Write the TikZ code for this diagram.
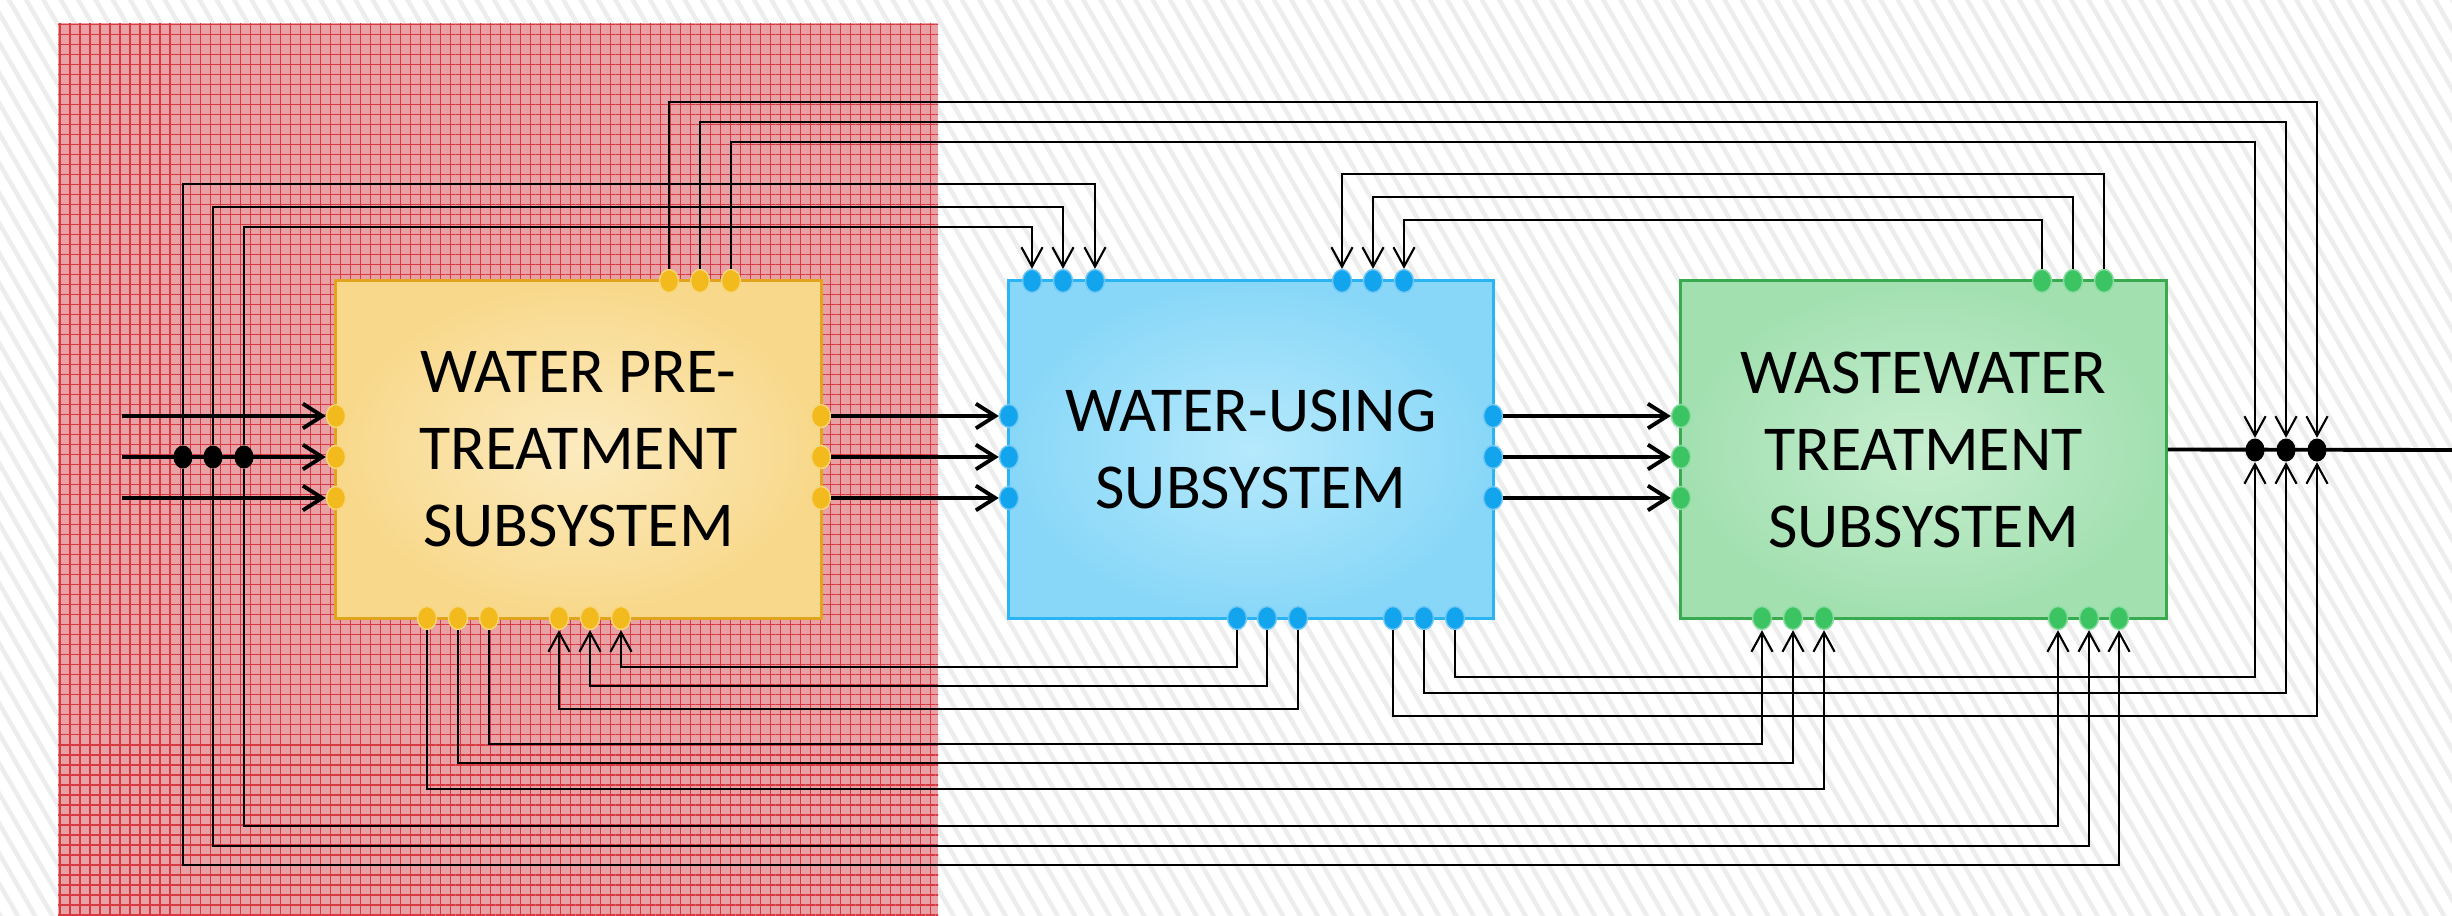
\documentclass[tikz,border=0pt]{standalone}
\usepackage{fontspec}
\setmainfont{Carlito}
\usetikzlibrary{arrows.meta,shapes.geometric,patterns.meta}

\definecolor{preline}{HTML}{E2A41C}
\definecolor{prein}{HTML}{FCEBC0}
\definecolor{preout}{HTML}{F8D88A}
\definecolor{preport}{HTML}{F3BA1E}
\definecolor{useline}{HTML}{2BB4F4}
\definecolor{usein}{HTML}{B6E9FC}
\definecolor{useout}{HTML}{88D7F8}
\definecolor{useport}{HTML}{12A4EC}
\definecolor{wwtline}{HTML}{38AA50}
\definecolor{wwtin}{HTML}{C6EECF}
\definecolor{wwtout}{HTML}{A2E0B0}
\definecolor{wwtport}{HTML}{3CC462}
\definecolor{plaid}{HTML}{E8A2A6}
\definecolor{plaidline}{HTML}{D83840}

\begin{document}
\begin{tikzpicture}[x=0.01cm, y=-0.01cm,
  box/.style={rectangle, minimum width=4.85cm, minimum height=3.37cm, line width=0.9pt,
    align=center, font=\fontsize{18.2}{21.9}\selectfont},
  port/.style={ellipse, minimum width=1.9mm, minimum height=2.3mm, inner sep=0pt, line width=0.4pt},
  junction/.style={port, fill=black},
  flow/.style={line width=1.1pt, -{Straight Barb[length=5.5pt,width=7pt]}},
  link/.style={line width=0.6pt, -{Straight Barb[length=5.5pt,width=6pt]}}]

% Background
\useasboundingbox (0,0) rectangle (2452,915);
\fill[white] (0,0) rectangle (2452,915);
\fill[pattern={Lines[angle=-60,distance=1.5mm,line width=0.45mm]}, pattern color=gray!14]
  (0,0) rectangle (2452,915);

% Pre-treatment area
\fill[plaid] (58,23) rectangle (938,915);
\fill[pattern={Hatch[angle=0,distance=1mm,line width=0.12mm]}, pattern color=plaidline]
  (58,23) rectangle (938,915);

% Subsystems
\node[box, draw=preline, inner color=prein, outer color=preout] (pre) at (578.5,449.5)
  {WATER PRE-\\TREATMENT\\SUBSYSTEM};
\node[box, draw=useline, inner color=usein, outer color=useout] (use) at (1251,449.5)
  {WATER-USING\\SUBSYSTEM};
\node[box, draw=wwtline, inner color=wwtin, outer color=wwtout] (wwt) at (1923.5,449.5)
  {WASTEWATER\\TREATMENT\\SUBSYSTEM};

% Ports: side
\foreach \i/\y in {1/416,2/457,3/498} {
  \node[port, fill=preport, draw=preport!60!white] (yl\i) at (336,\y) {};
  \node[port, fill=preport, draw=preport!60!white] (yr\i) at (821,\y) {};
  \node[port, fill=useport, draw=useport!60!white] (ul\i) at (1009,\y) {};
  \node[port, fill=useport, draw=useport!60!white] (ur\i) at (1493,\y) {};
  \node[port, fill=wwtport, draw=wwtport!60!white] (wl\i) at (1681,\y) {};
}

% Ports: top
\foreach \i/\x in {1/669,2/700,3/731}
  \node[port, fill=preport, draw=preport!60!white] (yt\i) at (\x,281) {};
\foreach \i/\x in {1/1032,2/1063,3/1095,4/1342,5/1373,6/1404}
  \node[port, fill=useport, draw=useport!60!white] (ut\i) at (\x,281) {};
\foreach \i/\x in {1/2042,2/2073,3/2104}
  \node[port, fill=wwtport, draw=wwtport!60!white] (wt\i) at (\x,281) {};

% Ports: bottom
\foreach \i/\x in {1/427,2/458,3/489,4/559,5/590,6/621}
  \node[port, fill=preport, draw=preport!60!white] (yb\i) at (\x,618) {};
\foreach \i/\x in {1/1237,2/1267,3/1298,4/1393,5/1424,6/1455}
  \node[port, fill=useport, draw=useport!60!white] (ub\i) at (\x,618) {};
\foreach \i/\x in {1/1762,2/1793,3/1824,4/2058,5/2089,6/2119}
  \node[port, fill=wwtport, draw=wwtport!60!white] (wb\i) at (\x,618) {};

% Splitters and mixers
\node[junction] (fj1) at (183,457) {};
\node[junction] (fj2) at (213,457) {};
\node[junction] (fj3) at (244,457) {};
\node[junction] (oj1) at (2255,450) {};
\node[junction] (oj2) at (2286,450) {};
\node[junction] (oj3) at (2317,450) {};

% Main flows
\coordinate (in1) at (122,416);
\coordinate (in2) at (122,457);
\coordinate (in3) at (122,498);
\coordinate (out) at (2452,450);
\foreach \i in {1,2,3} {
  \draw[flow] (in\i) -- (yl\i);
  \draw[flow] (yr\i) -- (ul\i);
  \draw[flow] (ur\i) -- (wl\i);
}
\draw[line width=1.1pt] (wwt.east) -- (out);

% Bypass over the top
\draw[link] (yt1) -- (yt1 |- 0,102) -| (oj3);
\draw[link] (yt2) -- (yt2 |- 0,122) -| (oj2);
\draw[link] (yt3) -- (yt3 |- 0,142) -| (oj1);
\draw[link] (fj1) -- (fj1 |- 0,184) -| (ut3);
\draw[link] (fj2) -- (fj2 |- 0,207) -| (ut2);
\draw[link] (fj3) -- (fj3 |- 0,227) -| (ut1);
\draw[link] (wt3) -- (wt3 |- 0,174) -| (ut4);
\draw[link] (wt2) -- (wt2 |- 0,197) -| (ut5);
\draw[link] (wt1) -- (wt1 |- 0,220) -| (ut6);

% Bypass underneath
\draw[link] (fj1) -- (fj1 |- 0,865) -| (wb6);
\draw[link] (fj2) -- (fj2 |- 0,846) -| (wb5);
\draw[link] (fj3) -- (fj3 |- 0,826) -| (wb4);
\draw[link] (yb1) -- (yb1 |- 0,789) -| (wb3);
\draw[link] (yb2) -- (yb2 |- 0,763) -| (wb2);
\draw[link] (yb3) -- (yb3 |- 0,744) -| (wb1);
\draw[link] (ub1) -- (ub1 |- 0,667) -| (yb6);
\draw[link] (ub2) -- (ub2 |- 0,686) -| (yb5);
\draw[link] (ub3) -- (ub3 |- 0,709) -| (yb4);
\draw[link] (ub4) -- (ub4 |- 0,716) -| (oj3);
\draw[link] (ub5) -- (ub5 |- 0,693) -| (oj2);
\draw[link] (ub6) -- (ub6 |- 0,677) -| (oj1);

\end{tikzpicture}
\end{document}
